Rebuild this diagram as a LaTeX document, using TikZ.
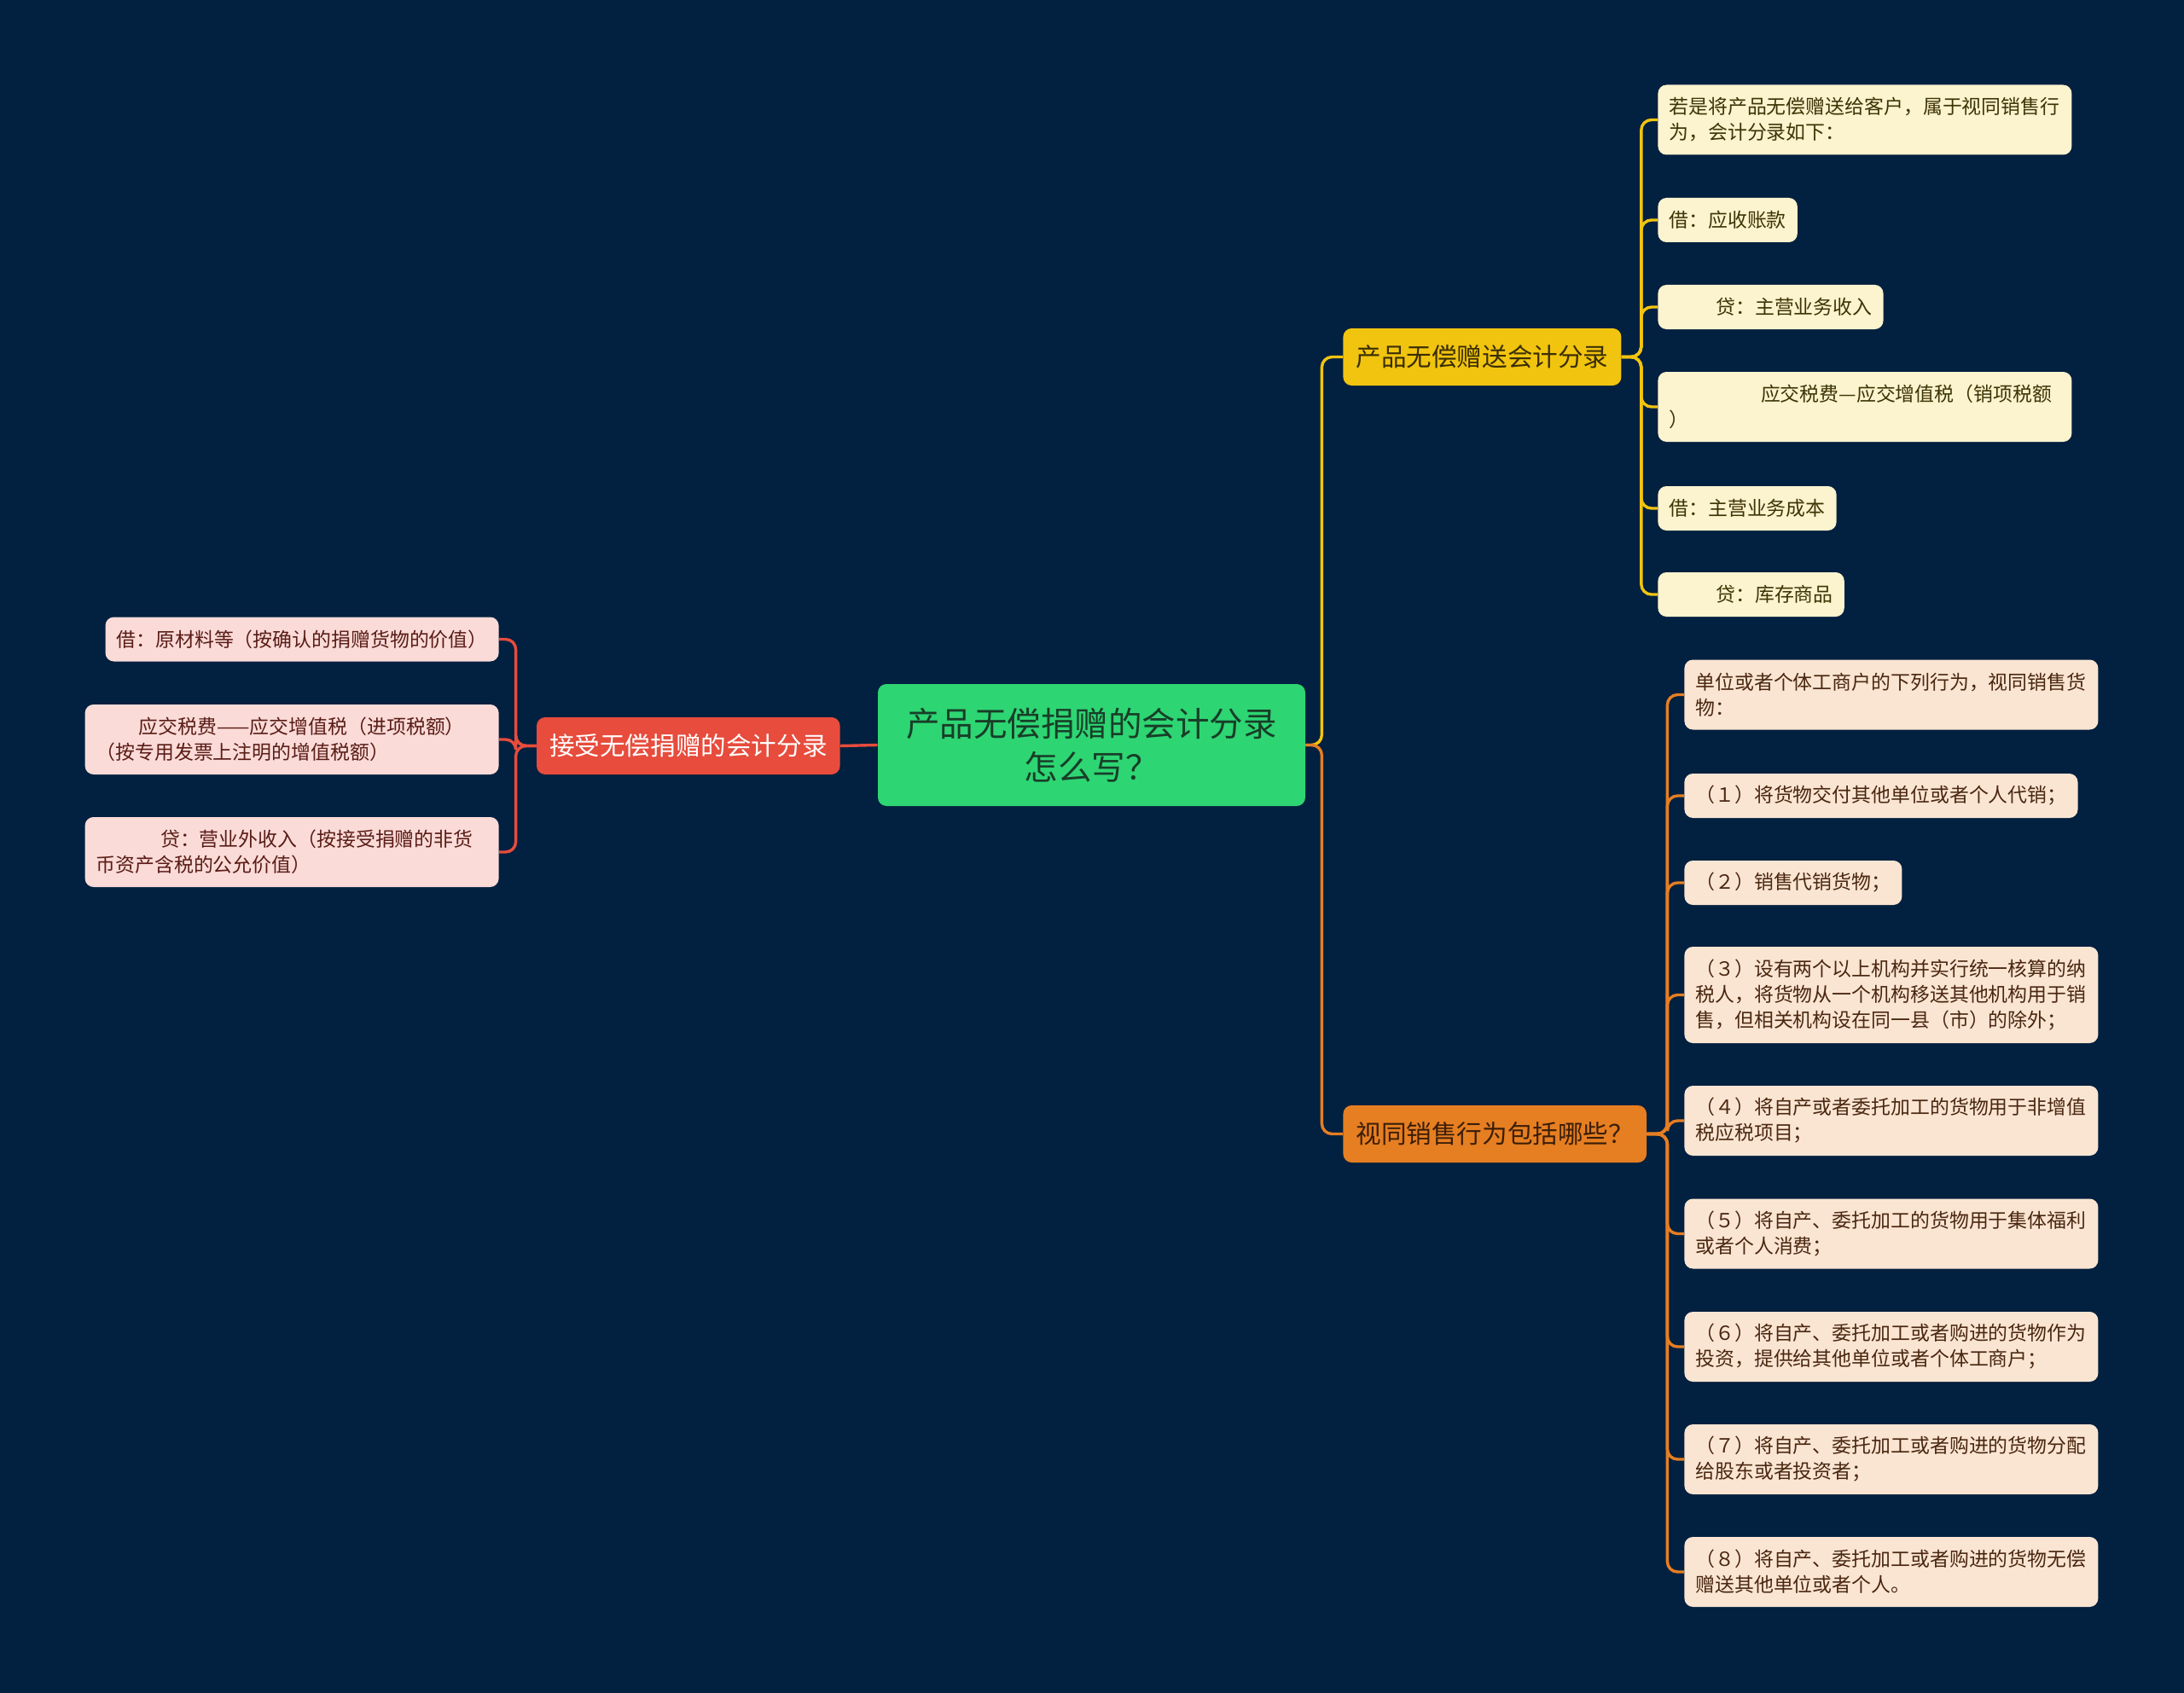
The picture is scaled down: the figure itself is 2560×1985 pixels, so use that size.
\documentclass[tikz,border=0pt]{standalone}
\usepackage{fontspec}
\setmainfont{Noto Sans CJK SC}
\definecolor{bg}{HTML}{02203F}
\definecolor{cgreen}{HTML}{2ED573}
\definecolor{cgreentxt}{HTML}{183E28}
\definecolor{cred}{HTML}{E74C3C}
\definecolor{cyellow}{HTML}{F1C40F}
\definecolor{corange}{HTML}{E67E22}
\definecolor{lpink}{HTML}{FADBD8}
\definecolor{lcream}{HTML}{FCF3CF}
\definecolor{lpeach}{HTML}{FAE5D3}
\definecolor{tpink}{HTML}{5A1C16}
\definecolor{tcream}{HTML}{3D3405}
\definecolor{tpeach}{HTML}{4A2710}
\definecolor{tyellow}{HTML}{3A2E05}
\definecolor{torange}{HTML}{3A1E08}
\begin{document}
\begin{tikzpicture}[x=0.5pt,y=-0.5pt,
  rootbox/.style={fill=cgreen,text=cgreentxt,rounded corners=5pt,minimum width=250.5pt,minimum height=71.5pt,align=center,inner sep=0pt,font=\fontsize{19.75pt}{25.3pt}\selectfont},
  branchbox/.style={rounded corners=5pt,minimum height=33.5pt,inner xsep=7.5pt,inner ysep=0pt,font=\fontsize{14.8pt}{18pt}\selectfont},
  leafbox/.style={rounded corners=5pt,minimum height=26pt,inner xsep=6.5pt,inner ysep=0pt,align=left,font=\fontsize{11.45pt}{15pt}\selectfont},
  widebox/.style={text width=229.5pt},
  twoline/.style={minimum height=41pt},
  threeline/.style={minimum height=56.5pt},
  pinkleaf/.style={leafbox,fill=lpink,text=tpink},
  creamleaf/.style={leafbox,fill=lcream,text=tcream},
  peachleaf/.style={leafbox,fill=lpeach,text=tpeach},
  conn/.style={line width=1.7pt,rounded corners=6pt}]
\fill[bg] (0,0) rectangle (2560,1985);
\useasboundingbox (0,0) rectangle (2560,1985);

% root
\node[rootbox] (C) at (1279.5,873.5) {产品无偿捐赠的会计分录\\怎么写？};

% branches
\node[branchbox,fill=cred,text=white,anchor=east] (R) at (985,874.5) {接受无偿捐赠的会计分录};
\node[branchbox,fill=cyellow,text=tyellow,anchor=west] (YB) at (1574,418.5) {产品无偿赠送会计分录};
\node[branchbox,fill=corange,text=torange,anchor=west] (OB) at (1574,1329.5) {视同销售行为包括哪些？};

% left leaves
\node[pinkleaf,anchor=east] (L1) at (585,749.5) {借：原材料等（按确认的捐赠货物的价值）};
\node[pinkleaf,widebox,twoline,anchor=east] (L2) at (585,867) {\hspace*{2.2em}应交税费——应交增值税（进项税额）\\（按专用发票上注明的增值税额）};
\node[pinkleaf,widebox,twoline,anchor=east] (L3) at (585,999) {\hspace*{3.3em}贷：营业外收入（按接受捐赠的非货\\币资产含税的公允价值）};

% yellow leaves
\node[creamleaf,widebox,twoline,anchor=west] (Y1) at (1943,140.5) {若是将产品无偿赠送给客户，属于视同销售行\\为，会计分录如下：};
\node[creamleaf,anchor=west] (Y2) at (1943,258) {借：应收账款};
\node[creamleaf,anchor=west] (Y3) at (1943,360) {\hspace*{2.4em}贷：主营业务收入};
\node[creamleaf,widebox,twoline,anchor=west] (Y4) at (1943,477) {\hspace*{4.7em}应交税费—应交增值税（销项税额\\）};
\node[creamleaf,anchor=west] (Y5) at (1943,596) {借：主营业务成本};
\node[creamleaf,anchor=west] (Y6) at (1943,697) {\hspace*{2.4em}贷：库存商品};

% orange leaves
\node[peachleaf,widebox,twoline,anchor=west] (O0) at (1974,814.5) {单位或者个体工商户的下列行为，视同销售货\\物：};
\node[peachleaf,anchor=west] (O1) at (1974,933) {（１）将货物交付其他单位或者个人代销；};
\node[peachleaf,anchor=west] (O2) at (1974,1035) {（２）销售代销货物；};
\node[peachleaf,widebox,threeline,anchor=west] (O3) at (1974,1166.5) {（３）设有两个以上机构并实行统一核算的纳\\税人，将货物从一个机构移送其他机构用于销\\售，但相关机构设在同一县（市）的除外；};
\node[peachleaf,widebox,twoline,anchor=west] (O4) at (1974,1314) {（４）将自产或者委托加工的货物用于非增值\\税应税项目；};
\node[peachleaf,widebox,twoline,anchor=west] (O5) at (1974,1446.5) {（５）将自产、委托加工的货物用于集体福利\\或者个人消费；};
\node[peachleaf,widebox,twoline,anchor=west] (O6) at (1974,1579) {（６）将自产、委托加工或者购进的货物作为\\投资，提供给其他单位或者个体工商户；};
\node[peachleaf,widebox,twoline,anchor=west] (O7) at (1974,1711) {（７）将自产、委托加工或者购进的货物分配\\给股东或者投资者；};
\node[peachleaf,widebox,twoline,anchor=west] (O8) at (1974,1843) {（８）将自产、委托加工或者购进的货物无偿\\赠送其他单位或者个人。};

% connectors
\draw[conn,cred] (C.west) -- (R.east);
\foreach \n in {L1,L2,L3}{
  \draw[conn,cred] (R.west) -- ++(-12pt,0) |- (\n.east);
}
\draw[conn,cyellow] (C.east) -- ++(9.5pt,0) |- (YB.west);
\draw[conn,corange] (C.east) -- ++(9.5pt,0) |- (OB.west);
\foreach \n in {Y1,Y2,Y3,Y4,Y5,Y6}{
  \draw[conn,cyellow] (YB.east) -- ++(11.5pt,0) |- (\n.west);
}
\foreach \n in {O0,O1,O2,O3,O4,O5,O6,O7,O8}{
  \draw[conn,corange] (OB.east) -- ++(12pt,0) |- (\n.west);
}
\end{tikzpicture}
\end{document}
